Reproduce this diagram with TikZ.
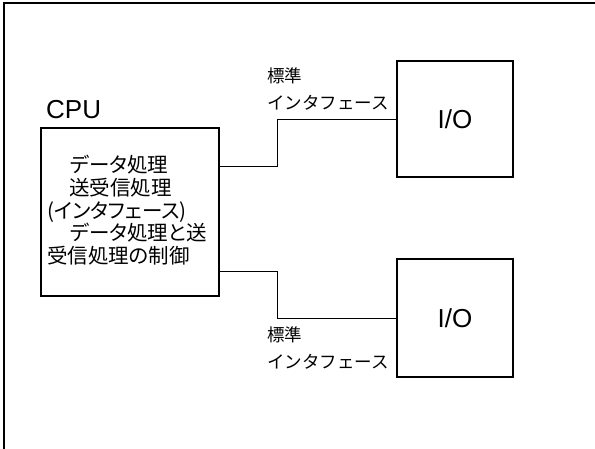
\documentclass[tikz,border=0pt]{standalone}
\usepackage{fontspec}
\setmainfont{Liberation Sans}
\newfontfamily\cjk{Noto Sans CJK JP}
\newfontfamily\cjkp[RawFeature=+palt]{Noto Sans CJK JP}
\begin{document}
\begin{tikzpicture}[x=1pt,y=-1pt,
  box/.style={draw, line width=1.2pt, inner sep=0pt, outer sep=0pt},
  wire/.style={draw, line width=1pt},
  big/.style={font=\fontsize{26}{28}\selectfont},
  lbl/.style={font=\cjk\fontsize{17.5}{26.5}\selectfont, align=left, inner sep=0pt, anchor=north west},
  cputext/.style={font=\cjkp\fontsize{20.5}{22.7}\selectfont, align=left, inner sep=0pt, anchor=north west}]
\useasboundingbox (0,0) rectangle (595,448);
\draw[line width=1.2pt] (4,450) -- (4,3) -- (597,3);
\node[box, minimum width=178pt, minimum height=168pt, anchor=north west] (cpu) at (41,128) {};
\node[big, anchor=base west, inner sep=0pt] (cpulbl) at (46,118) {CPU};
\node[cputext] (cpubody) at (47,155) {\hspace{23pt}データ処理\\\hspace{22pt}送受信処理\\(インタフェース)\\\hspace{23pt}データ処理と送\\受信処理の制御};
\node[box, minimum width=116pt, minimum height=116pt, anchor=north west] (io1) at (397,61) {};
\node[big] (io1t) at (io1.center) {I/O};
\node[box, minimum width=116pt, minimum height=118pt, anchor=north west] (io2) at (397,259) {};
\node[big] (io2t) at (io2.center) {I/O};
\coordinate (c1) at (219,166);
\coordinate (c2) at (219,271);
\draw[wire] (c1) -- (277,166) |- (io1.west);
\draw[wire] (c2) -- (277,271) |- (io2.west);
\node[lbl] (l1) at (267,68) {標準\\インタフェース};
\node[lbl] (l2) at (267,327) {標準\\インタフェース};
\end{tikzpicture}
\end{document}
